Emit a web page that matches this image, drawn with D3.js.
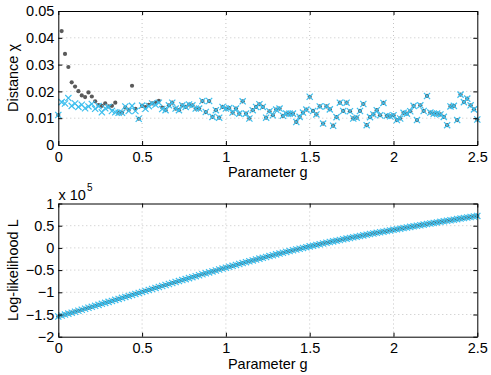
<!DOCTYPE html>
<html><head><meta charset="utf-8">
<script src="https://cdn.jsdelivr.net/npm/d3@7"></script>
<style>body{margin:0;background:#fff}svg{display:block;font-family:"Liberation Sans",Arial,Helvetica,sans-serif}</style>
</head><body>
<script>
const gValues = [0,0.02,0.04,0.06,0.08,0.1,0.12,0.14,0.16,0.18,
0.2,0.22,0.24,0.26,0.28,0.3,0.32,0.34,0.36,0.38,
0.4,0.42,0.44,0.46,0.48,0.5,0.52,0.54,0.56,0.58,
0.6,0.62,0.64,0.66,0.68,0.7,0.72,0.74,0.76,0.78,
0.8,0.82,0.84,0.86,0.88,0.9,0.92,0.94,0.96,0.98,
1,1.02,1.04,1.06,1.08,1.1,1.12,1.14,1.16,1.18,
1.2,1.22,1.24,1.26,1.28,1.3,1.32,1.34,1.36,1.38,
1.4,1.42,1.44,1.46,1.48,1.5,1.52,1.54,1.56,1.58,
1.6,1.62,1.64,1.66,1.68,1.7,1.72,1.74,1.76,1.78,
1.8,1.82,1.84,1.86,1.88,1.9,1.92,1.94,1.96,1.98,
2,2.02,2.04,2.06,2.08,2.1,2.12,2.14,2.16,2.18,
2.2,2.22,2.24,2.26,2.28,2.3,2.32,2.34,2.36,2.38,
2.4,2.42,2.44,2.46,2.48,2.5];

const chiCross = [0.0112,0.016,0.0155,0.0175,0.0146,0.0155,0.0142,0.015,0.0137,0.0144,
0.0153,0.0135,0.0145,0.0122,0.0137,0.0142,0.0127,0.0122,0.012,0.012,
0.0144,0.0127,0.0146,0.0127,0.0098,0.0147,0.0135,0.0145,0.0155,0.015,
0.0158,0.0134,0.013,0.0148,0.0158,0.0136,0.013,0.0148,0.0142,0.0151,
0.0148,0.0136,0.0136,0.0164,0.0123,0.0164,0.0105,0.013,0.0102,0.0142,
0.0136,0.0138,0.0121,0.0136,0.0117,0.0163,0.0117,0.0099,0.013,0.0142,
0.0152,0.0142,0.0102,0.0126,0.0111,0.0132,0.0136,0.0109,0.0117,0.0117,
0.0117,0.0086,0.0105,0.0121,0.0132,0.018,0.0127,0.0114,0.0144,0.008,
0.0144,0.0133,0.0072,0.0104,0.0158,0.0127,0.0158,0.0126,0.0099,0.0102,
0.0127,0.0153,0.0074,0.0104,0.0114,0.013,0.0111,0.0157,0.0109,0.0107,
0.0111,0.0093,0.0099,0.012,0.0117,0.0126,0.0146,0.0093,0.0148,0.0127,
0.0183,0.0121,0.0117,0.0117,0.0114,0.0105,0.0074,0.0144,0.0146,0.0093,
0.0188,0.016,0.0173,0.0148,0.0133,0.0095];

const chiDot = [0.0112,0.0425,0.034,0.0291,0.0234,0.0218,0.0201,0.0185,0.0179,0.0196,
0.0181,0.0163,0.0149,0.0146,0.0155,0.0144,0.0146,0.0158,0.0121,0.0121,
0.014,0.0131,0.0221,0.0135,0.0098,0.0146,0.0141,0.015,0.0155,0.0158,
0.0165,0.014,0.013,0.0148,0.0158,0.0136,0.013,0.0148,0.0142,0.0151,
0.0148,0.0136,0.0136,0.0164,0.0123,0.0164,0.0105,0.013,0.0102,0.0142,
0.0136,0.0138,0.0121,0.0136,0.0117,0.0163,0.0117,0.0099,0.013,0.0142,
0.0152,0.0142,0.0102,0.0126,0.0111,0.0132,0.0136,0.0109,0.0117,0.0117,
0.0117,0.0086,0.0105,0.0121,0.0132,0.018,0.0127,0.0114,0.0144,0.008,
0.0144,0.0133,0.0072,0.0104,0.0158,0.0127,0.0158,0.0126,0.0099,0.0102,
0.0127,0.0153,0.0074,0.0104,0.0114,0.013,0.0111,0.0157,0.0109,0.0107,
0.0111,0.0093,0.0099,0.012,0.0117,0.0126,0.0146,0.0093,0.0148,0.0127,
0.0183,0.0121,0.0117,0.0117,0.0114,0.0105,0.0074,0.0144,0.0146,0.0093,
0.0188,0.016,0.0173,0.0148,0.0133,0.0095];

// log-likelihood in units of 10^5
const logL = [-1.545,-1.523,-1.502,-1.480,-1.459,-1.437,-1.415,-1.393,-1.371,-1.349,
-1.327,-1.305,-1.283,-1.260,-1.238,-1.216,-1.194,-1.171,-1.149,-1.126,
-1.104,-1.082,-1.059,-1.037,-1.014,-0.992,-0.970,-0.947,-0.925,-0.902,
-0.880,-0.858,-0.836,-0.813,-0.791,-0.769,-0.747,-0.725,-0.703,-0.681,
-0.659,-0.637,-0.616,-0.594,-0.573,-0.551,-0.530,-0.509,-0.487,-0.466,
-0.445,-0.424,-0.404,-0.383,-0.363,-0.342,-0.322,-0.302,-0.282,-0.262,
-0.242,-0.223,-0.204,-0.184,-0.165,-0.146,-0.128,-0.109,-0.091,-0.072,
-0.054,-0.036,-0.019,-0.001,0.016,0.034,0.050,0.067,0.083,0.100,
0.116,0.132,0.147,0.163,0.178,0.194,0.209,0.224,0.238,0.253,
0.268,0.282,0.296,0.311,0.325,0.339,0.353,0.366,0.380,0.393,
0.407,0.420,0.433,0.447,0.460,0.473,0.486,0.499,0.511,0.524,
0.537,0.549,0.562,0.574,0.587,0.599,0.611,0.623,0.636,0.648,
0.660,0.672,0.684,0.696,0.708,0.720];

const xTicks = [0,0.5,1,1.5,2,2.5];
const xTickLabels = ["0","0.5","1","1.5","2","2.5"];
const yTopTicks = [0,0.01,0.02,0.03,0.04,0.05];
const yTopLabels = ["0","0.01","0.02","0.03","0.04","0.05"];
const yBotTicks = [-2,-1.5,-1,-0.5,0,0.5,1];
const yBotLabels = ["\u22122","\u22121.5","\u22121","\u22120.5","0","0.5","1"];

const W = 491, H = 375;
const FS = 14.5;
const crossColor = "#3dbfee", dotColor = "#5a5a5a";
const svg = d3.select("body").append("svg").attr("width", W).attr("height", H);

const x = d3.scaleLinear().domain([0, 2.5]).range([58.3, 477.3]);
const yTop = d3.scaleLinear().domain([0, 0.05]).range([145, 11]);
const yBot = d3.scaleLinear().domain([-2, 1]).range([336.7, 203.5]);

function panel(y, yTicks, yLabels, dots, crosses) {
  const g = svg.append("g");
  const [yb, yt] = y.range();
  const [xl, xr] = x.range();
  // grid
  g.selectAll(".vg").data(xTicks.slice(1, -1)).join("line")
    .attr("x1", d => x(d)).attr("x2", d => x(d)).attr("y1", yt).attr("y2", yb)
    .attr("stroke", "#c4c4c4").attr("stroke-width", 1).attr("stroke-dasharray", "1,3");
  g.selectAll(".hg").data(yTicks.slice(1, -1)).join("line")
    .attr("y1", d => y(d)).attr("y2", d => y(d)).attr("x1", xl).attr("x2", xr)
    .attr("stroke", "#c4c4c4").attr("stroke-width", 1).attr("stroke-dasharray", "1,3");
  // markers
  g.selectAll(".dt").data(gValues).join("circle")
    .attr("cx", d => x(d)).attr("cy", (d, i) => y(dots[i]))
    .attr("r", 2.1).attr("fill", dotColor);
  const s = 3.1;
  g.selectAll(".cr").data(gValues).join("path")
    .attr("transform", (d, i) => `translate(${x(d)},${y(crosses[i])})`)
    .attr("d", `M${-s},${-s}L${s},${s}M${-s},${s}L${s},${-s}`)
    .attr("stroke", crossColor).attr("stroke-width", 1.2).attr("fill", "none");
  // axes
  const style = sel => { sel.attr("font-size", FS).attr("font-family", null).attr("color", "#000");
    sel.selectAll("path,line").attr("stroke-width", 1); };
  g.append("g").attr("transform", `translate(0,${yb})`)
    .call(d3.axisBottom(x).tickValues(xTicks).tickFormat((d, i) => xTickLabels[i]).tickSizeInner(-4).tickSizeOuter(0).tickPadding(6.5)).call(style);
  g.append("g").attr("transform", `translate(0,${yt})`)
    .call(d3.axisTop(x).tickValues(xTicks).tickFormat("").tickSizeInner(-4).tickSizeOuter(0)).call(style);
  g.append("g").attr("transform", `translate(${xl},0)`)
    .call(d3.axisLeft(y).tickValues(yTicks).tickFormat((d, i) => yLabels[i]).tickSizeInner(-4).tickSizeOuter(0).tickPadding(4)).call(style);
  g.append("g").attr("transform", `translate(${xr},0)`)
    .call(d3.axisRight(y).tickValues(yTicks).tickFormat("").tickSizeInner(-4).tickSizeOuter(0)).call(style);
  // x label
  g.append("text").attr("x", (xl + xr) / 2).attr("y", yb + 32).attr("text-anchor", "middle")
    .attr("font-size", FS).text("Parameter g");
  return g;
}

panel(yTop, yTopTicks, yTopLabels, chiDot, chiCross);
panel(yBot, yBotTicks, yBotLabels, logL, logL);

svg.append("text").attr("transform", `translate(17.5,${(145 + 11) / 2}) rotate(-90)`)
  .attr("text-anchor", "middle").attr("font-size", FS).text("Distance \u03c7");
svg.append("text").attr("transform", `translate(17.5,${(336.7 + 203.5) / 2}) rotate(-90)`)
  .attr("text-anchor", "middle").attr("font-size", FS).text("Log-likelihood L");

const ex = svg.append("text").attr("x", 58.5).attr("y", 200).attr("font-size", FS);
ex.append("tspan").text("x 10");
ex.append("tspan").attr("font-size", 10).attr("dy", -9).attr("dx", 1).text("5");
</script>
</body></html>
